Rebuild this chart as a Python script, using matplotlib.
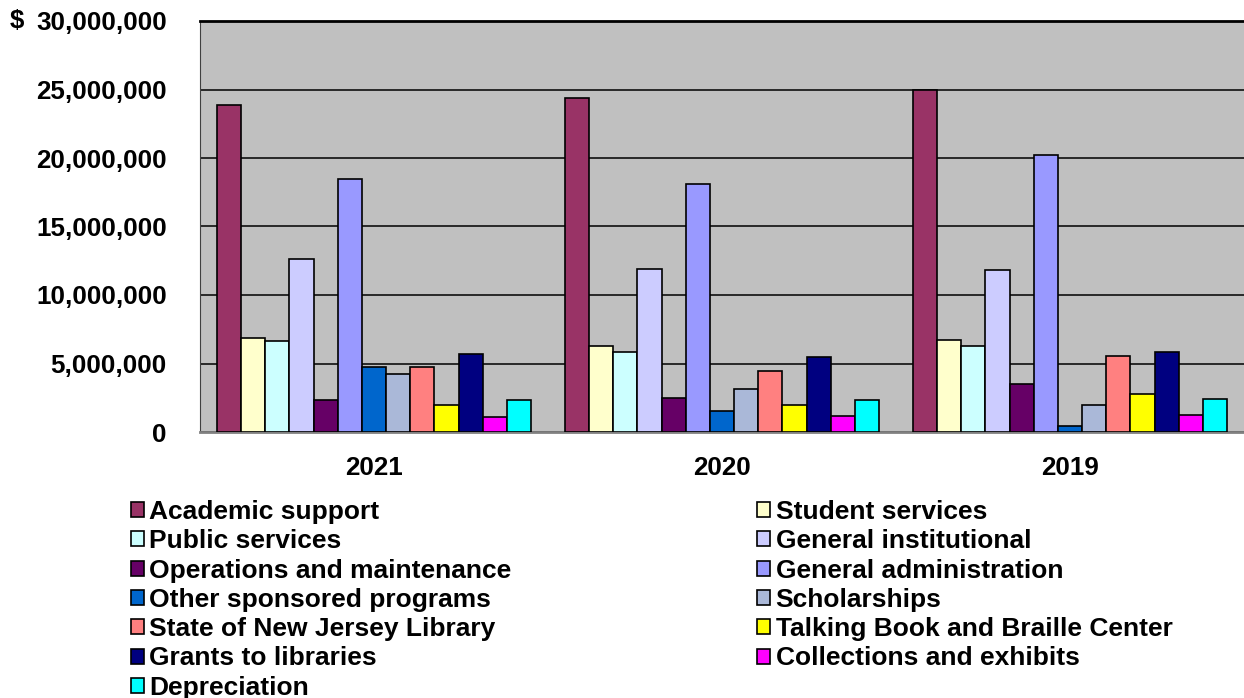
import matplotlib
matplotlib.use("Agg")
import matplotlib.pyplot as plt
import numpy as np
from matplotlib.ticker import FuncFormatter

plt.rcParams['font.family'] = ['Liberation Sans', 'DejaVu Sans']
plt.rcParams['font.weight'] = 'bold'

years = ['2021', '2020', '2019']

categories = ['Academic support', 'Student services', 'Public services',
              'General institutional', 'Operations and maintenance',
              'General administration', 'Other sponsored programs',
              'Scholarships', 'State of New Jersey Library',
              'Talking Book and Braille Center', 'Grants to libraries',
              'Collections and exhibits', 'Depreciation']

# values per category, for 2021, 2020, 2019
academic_support = [23.9e6, 24.37e6, 24.96e6]
student_services = [6.87e6, 6.29e6, 6.68e6]
public_services = [6.63e6, 5.83e6, 6.31e6]
general_institutional = [12.65e6, 11.87e6, 11.85e6]
operations_maintenance = [2.31e6, 2.5e6, 3.52e6]
general_administration = [18.48e6, 18.09e6, 20.2e6]
other_sponsored = [4.71e6, 1.53e6, 0.44e6]
scholarships = [4.22e6, 3.13e6, 1.99e6]
nj_library = [4.78e6, 4.44e6, 5.56e6]
talking_book = [2.0e6, 1.94e6, 2.79e6]
grants = [5.68e6, 5.44e6, 5.83e6]
collections = [1.09e6, 1.17e6, 1.24e6]
depreciation = [2.31e6, 2.35e6, 2.4e6]

series = [academic_support, student_services, public_services,
          general_institutional, operations_maintenance, general_administration,
          other_sponsored, scholarships, nj_library, talking_book, grants,
          collections, depreciation]

colors = ['#993366', '#FFFFCC', '#CCFFFF', '#CCCCFF', '#660066', '#9999FF',
          '#0066CC', '#AAB8D8', '#FF8080', '#FFFF00', '#000080', '#FF00FF',
          '#00FFFF']

W, H = 1244, 698
fig = plt.figure(figsize=(W / 100, H / 100), dpi=100)
ax = fig.add_axes([200 / W, 1 - 432 / H, 1044 / W, (432 - 21) / H])
ax.set_facecolor('#C0C0C0')

x = np.arange(len(years))
n = len(series)
bw = 0.904 / n
handles = []
for i, (vals, c) in enumerate(zip(series, colors)):
    b = ax.bar(x - 0.452 + bw * (i + 0.5), vals, width=bw, color=c,
               edgecolor='black', linewidth=1.2, label=categories[i], zorder=3)
    handles.append(b)

ax.set_xlim(-0.5, 2.5)
ax.set_ylim(0, 30e6)
ax.set_yticks(np.arange(0, 30e6 + 1, 5e6))
ax.yaxis.set_major_formatter(FuncFormatter(lambda v, p: '{:,.0f}'.format(v)))
ax.grid(axis='y', color='black', linewidth=1.1, zorder=1)
ax.set_axisbelow(True)
ax.set_xticks(x)
ax.set_xticklabels(years)
ax.tick_params(axis='y', length=0, pad=24, labelsize=18.7)
ax.tick_params(axis='x', length=0, pad=17, labelsize=18.7)
ax.spines['right'].set_visible(False)
ax.spines['top'].set_linewidth(2)
ax.spines['left'].set_color('#404040')
ax.spines['bottom'].set_color('#808080')
ax.spines['bottom'].set_linewidth(2)

fig.text(10 / W, 1 - 21 / H, '$', fontsize=18.7, fontweight='bold',
         va='center', ha='left')

# legend reads row by row in the original, so reorder for column fill
order = list(range(0, n, 2)) + list(range(1, n, 2))
fig.legend([handles[i] for i in order], [categories[i] for i in order],
           loc='upper left', bbox_to_anchor=(131 / W, 1 - 500 / H),
           ncol=2, frameon=False, fontsize=19, handlelength=0.5,
           handleheight=0.5, handletextpad=0.2, columnspacing=9.3,
           labelspacing=0.2, borderpad=0, borderaxespad=0)

fig.savefig('out.png', dpi=100)
